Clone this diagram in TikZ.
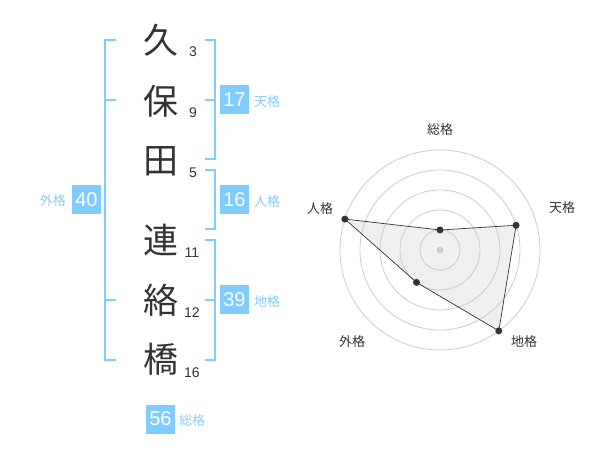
\documentclass[tikz,border=0pt]{standalone}
\usepackage{fontspec}
\setmainfont{Liberation Sans}
\newfontfamily\cjk{Noto Sans CJK JP}
\definecolor{lblue}{RGB}{128,204,255}
\definecolor{tblue}{RGB}{136,204,250}
\definecolor{dark}{RGB}{51,51,51}
\definecolor{ring}{RGB}{204,204,204}
\definecolor{area}{RGB}{240,240,240}
\begin{document}
\begin{tikzpicture}[x=1pt,y=-1pt,
  kanji/.style={font=\cjk\fontsize{35}{35}\selectfont,text=dark,inner sep=0pt},
  stroke/.style={font=\fontsize{14}{14}\selectfont,text=dark,inner sep=0pt},
  valbox/.style={fill=lblue,text=white,minimum size=29pt,inner sep=0pt,font=\fontsize{20}{20}\selectfont},
  lbl/.style={font=\cjk\fontsize{13}{13}\selectfont,text=tblue,inner sep=0pt},
  rlbl/.style={font=\cjk\fontsize{13}{13}\selectfont,text=dark,inner sep=0pt},
  brk/.style={draw=lblue,line width=2pt},
  pt/.style={circle,fill=dark,inner sep=0pt,minimum size=7pt}]
\useasboundingbox (0,0) rectangle (600,470);
% kanji
\node[kanji] (k1) at (161,40) {久};
\node[kanji] (k2) at (161,101) {保};
\node[kanji] (k3) at (161,161) {田};
\node[kanji] (k4) at (161,240) {連};
\node[kanji] (k5) at (161,300) {絡};
\node[kanji] (k6) at (161,359) {橋};
% stroke counts
\node[stroke] (s1) at (193,52) {3};
\node[stroke] (s2) at (193,113) {9};
\node[stroke] (s3) at (193,173) {5};
\node[stroke] (s4) at (192,253) {11};
\node[stroke] (s5) at (192,313) {12};
\node[stroke] (s6) at (192,373) {16};
% brackets
\draw[brk] (116,40) -- (105,40) -- (105,360) -- (116,360);
\draw[brk] (105,100) -- (116,100);
\draw[brk] (105,300) -- (116,300);
\draw[brk] (205,40) -- (214.5,40) -- (214.5,159) -- (205,159);
\draw[brk] (205,100) -- (214.5,100);
\draw[brk] (205,170) -- (214.5,170) -- (214.5,229) -- (205,229);
\draw[brk] (205,240) -- (214.5,240) -- (214.5,360) -- (205,360);
\draw[brk] (205,300) -- (214.5,300);
% value boxes
\node[valbox] (gai) at (86.5,200) {40};
\node[lbl,anchor=east] (gail) at (66,201) {外格};
\node[valbox] (ten) at (234.5,100) {17};
\node[lbl,anchor=west] (tenl) at (254,102) {天格};
\node[valbox] (jin) at (234.5,200) {16};
\node[lbl,anchor=west] (jinl) at (254,202) {人格};
\node[valbox] (chi) at (234.5,300) {39};
\node[lbl,anchor=west] (chil) at (254,302) {地格};
\node[valbox] (sou) at (160.5,419) {56};
\node[lbl,anchor=west] (soul) at (179,421) {総格};
% radar
\begin{scope}[shift={(440,250)},yscale=-1]
  \coordinate (pS) at (90:20);
  \coordinate (pT) at (18:80);
  \coordinate (pC) at (-54:100);
  \coordinate (pG) at (-126:40);
  \coordinate (pJ) at (162:100);
  \fill[area] (pS) -- (pT) -- (pC) -- (pG) -- (pJ) -- cycle;
  \foreach \r in {20,40,60,80,100} \draw[ring,line width=0.8pt] (0,0) circle (\r);
  \node[circle,fill=ring,inner sep=0pt,minimum size=7pt] (ctr) at (0,0) {};
  \draw[dark,line width=0.7pt] (pS) -- (pT) -- (pC) -- (pG) -- (pJ) -- cycle;
  \foreach \p in {pS,pT,pC,pG,pJ} \node[pt] at (\p) {};
\end{scope}
\node[rlbl] (rS) at (440,130) {総格};
\node[rlbl] (rT) at (562,208) {天格};
\node[rlbl] (rJ) at (320,209) {人格};
\node[rlbl] (rG) at (352,342) {外格};
\node[rlbl] (rC) at (524,342) {地格};
\end{tikzpicture}
\end{document}
